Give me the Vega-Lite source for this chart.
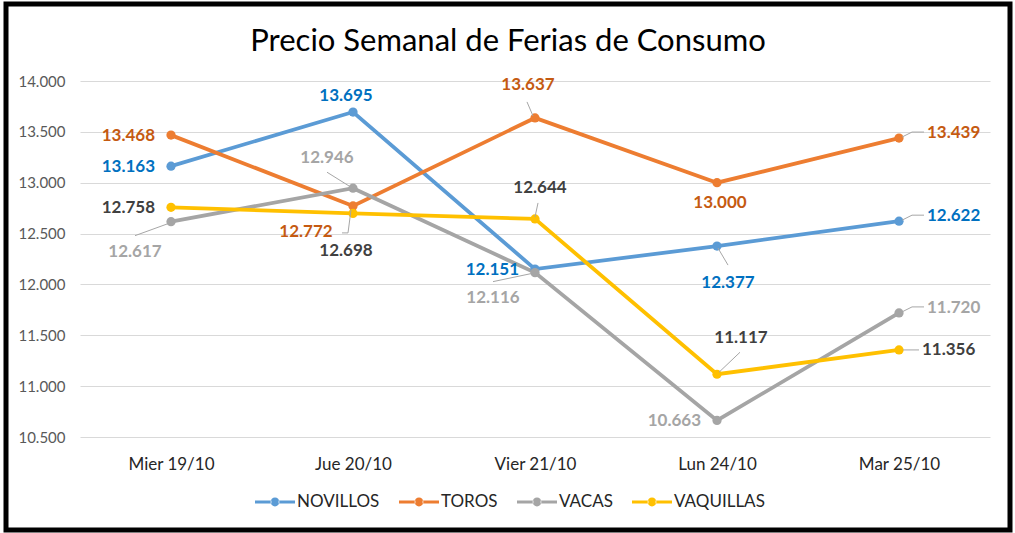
{
  "$schema": "https://vega.github.io/schema/vega-lite/v6.json",
  "width": 1004,
  "height": 526,
  "autosize": {"type": "none"},
  "padding": {"left": 6, "top": 4, "right": 5, "bottom": 3},
  "background": "white",
  "title": {
    "text": "Precio Semanal de Ferias de Consumo",
    "font": "Lato",
    "fontSize": 31,
    "fontWeight": "normal",
    "color": "#000000",
    "anchor": "middle",
    "baseline": "alphabetic",
    "offset": -78
  },
  "config": {
    "view": {"stroke": "#000000", "strokeWidth": 5},
    "locale": {"number": {"decimal": ",", "thousands": ".", "grouping": [3], "currency": ["$", ""]}}
  },
  "data": {
    "values": [
      {"serie": "NOVILLOS", "fecha": "Mier 19/10", "precio": 13163},
      {"serie": "NOVILLOS", "fecha": "Jue 20/10", "precio": 13695},
      {"serie": "NOVILLOS", "fecha": "Vier 21/10", "precio": 12151},
      {"serie": "NOVILLOS", "fecha": "Lun 24/10", "precio": 12377},
      {"serie": "NOVILLOS", "fecha": "Mar 25/10", "precio": 12622},
      {"serie": "TOROS", "fecha": "Mier 19/10", "precio": 13468},
      {"serie": "TOROS", "fecha": "Jue 20/10", "precio": 12772},
      {"serie": "TOROS", "fecha": "Vier 21/10", "precio": 13637},
      {"serie": "TOROS", "fecha": "Lun 24/10", "precio": 13000},
      {"serie": "TOROS", "fecha": "Mar 25/10", "precio": 13439},
      {"serie": "VACAS", "fecha": "Mier 19/10", "precio": 12617},
      {"serie": "VACAS", "fecha": "Jue 20/10", "precio": 12946},
      {"serie": "VACAS", "fecha": "Vier 21/10", "precio": 12116},
      {"serie": "VACAS", "fecha": "Lun 24/10", "precio": 10663},
      {"serie": "VACAS", "fecha": "Mar 25/10", "precio": 11720},
      {"serie": "VAQUILLAS", "fecha": "Mier 19/10", "precio": 12758},
      {"serie": "VAQUILLAS", "fecha": "Jue 20/10", "precio": 12698},
      {"serie": "VAQUILLAS", "fecha": "Vier 21/10", "precio": 12644},
      {"serie": "VAQUILLAS", "fecha": "Lun 24/10", "precio": 11117},
      {"serie": "VAQUILLAS", "fecha": "Mar 25/10", "precio": 11356}
    ]
  },
  "encoding": {
    "x": {
      "field": "fecha",
      "type": "nominal",
      "sort": ["Mier 19/10", "Jue 20/10", "Vier 21/10", "Lun 24/10", "Mar 25/10"],
      "scale": {"type": "point", "range": [74, 984], "padding": 0.5},
      "axis": {
        "title": null,
        "labelAngle": 0,
        "domain": false,
        "ticks": false,
        "tickSize": 0,
        "grid": false,
        "offset": -93,
        "labelPadding": 19,
        "labelFont": "Lato",
        "labelFontSize": 17,
        "labelColor": "#262626"
      }
    },
    "y": {
      "field": "precio",
      "type": "quantitative",
      "scale": {"domain": [10500, 14000], "range": [433, 77], "nice": false, "zero": false},
      "axis": {
        "title": null,
        "domain": false,
        "ticks": false,
        "tickSize": 0,
        "offset": -74,
        "labelPadding": 15,
        "values": [10500, 11000, 11500, 12000, 12500, 13000, 13500, 14000],
        "format": ",d",
        "grid": true,
        "gridColor": "#D9D9D9",
        "gridWidth": 1,
        "labelFont": "Lato",
        "labelFontSize": 15,
        "labelColor": "#595959"
      }
    }
  },
  "layer": [
    {
      "mark": {"type": "line", "strokeWidth": 3.8},
      "encoding": {
        "stroke": {
          "field": "serie",
          "type": "nominal",
          "scale": {"domain": ["VAQUILLAS", "VACAS", "TOROS", "NOVILLOS"], "range": ["#FFC000", "#A5A5A5", "#ED7D31", "#5B9BD5"]},
          "legend": null
        }
      }
    },
    {
      "mark": {"type": "point", "filled": true, "size": 85, "opacity": 1},
      "encoding": {
        "color": {
          "field": "serie",
          "type": "nominal",
          "scale": {"domain": ["NOVILLOS", "TOROS", "VACAS", "VAQUILLAS"], "range": ["#5B9BD5", "#ED7D31", "#A5A5A5", "#FFC000"]},
          "legend": {
            "title": null,
            "orient": "none",
            "legendX": 249,
            "legendY": 478,
            "direction": "horizontal",
            "symbolType": "M-1,-0.075H-0.18V0.075H-1Z M0.18,-0.075H1V0.075H0.18Z M-0.22,0A0.22,0.22 0 1 0 0.22,0A0.22,0.22 0 1 0 -0.22,0Z",
            "symbolSize": 1600,
            "symbolStrokeWidth": 0,
            "labelFont": "Lato",
            "labelFontSize": 17,
            "labelColor": "#262626",
            "columnPadding": 19,
            "labelOffset": 2
          }
        }
      }
    },
    {"transform": [{"filter": "datum.serie == 'VACAS' && datum.fecha == 'Mier 19/10'"}], "mark": {"type": "rule", "color": "#A6A6A6", "strokeWidth": 1, "xOffset": -3, "yOffset": 2, "x2Offset": -36, "y2Offset": 14}, "encoding": {"x2": {"field": "fecha"}, "y2": {"field": "precio"}}},
    {"transform": [{"filter": "datum.serie == 'VACAS' && datum.fecha == 'Jue 20/10'"}], "mark": {"type": "rule", "color": "#A6A6A6", "strokeWidth": 1, "xOffset": -2, "yOffset": -1, "x2Offset": -26, "y2Offset": -16}, "encoding": {"x2": {"field": "fecha"}, "y2": {"field": "precio"}}},
    {"transform": [{"filter": "datum.serie == 'TOROS' && datum.fecha == 'Jue 20/10'"}], "mark": {"type": "rule", "color": "#A6A6A6", "strokeWidth": 1, "xOffset": -2, "yOffset": 4, "x2Offset": -5, "y2Offset": 27}, "encoding": {"x2": {"field": "fecha"}, "y2": {"field": "precio"}}},
    {"transform": [{"filter": "datum.serie == 'TOROS' && datum.fecha == 'Jue 20/10'"}], "mark": {"type": "rule", "color": "#A6A6A6", "strokeWidth": 1, "xOffset": -11, "yOffset": 27, "x2Offset": -5, "y2Offset": 27}, "encoding": {"x2": {"field": "fecha"}, "y2": {"field": "precio"}}},
    {"transform": [{"filter": "datum.serie == 'TOROS' && datum.fecha == 'Vier 21/10'"}], "mark": {"type": "rule", "color": "#A6A6A6", "strokeWidth": 1, "xOffset": -2, "yOffset": -2, "x2Offset": -8, "y2Offset": -16}, "encoding": {"x2": {"field": "fecha"}, "y2": {"field": "precio"}}},
    {"transform": [{"filter": "datum.serie == 'VAQUILLAS' && datum.fecha == 'Vier 21/10'"}], "mark": {"type": "rule", "color": "#A6A6A6", "strokeWidth": 1, "xOffset": 0, "yOffset": -2, "x2Offset": 3, "y2Offset": -16}, "encoding": {"x2": {"field": "fecha"}, "y2": {"field": "precio"}}},
    {"transform": [{"filter": "datum.serie == 'VACAS' && datum.fecha == 'Vier 21/10'"}], "mark": {"type": "rule", "color": "#A6A6A6", "strokeWidth": 1, "xOffset": -4, "yOffset": 1, "x2Offset": -42, "y2Offset": 9}, "encoding": {"x2": {"field": "fecha"}, "y2": {"field": "precio"}}},
    {"transform": [{"filter": "datum.serie == 'NOVILLOS' && datum.fecha == 'Lun 24/10'"}], "mark": {"type": "rule", "color": "#A6A6A6", "strokeWidth": 1, "xOffset": 1, "yOffset": 2, "x2Offset": 11, "y2Offset": 19}, "encoding": {"x2": {"field": "fecha"}, "y2": {"field": "precio"}}},
    {"transform": [{"filter": "datum.serie == 'VAQUILLAS' && datum.fecha == 'Lun 24/10'"}], "mark": {"type": "rule", "color": "#A6A6A6", "strokeWidth": 1, "xOffset": 2, "yOffset": -2, "x2Offset": 23, "y2Offset": -22}, "encoding": {"x2": {"field": "fecha"}, "y2": {"field": "precio"}}},
    {"transform": [{"filter": "datum.fecha == 'Mar 25/10' && datum.serie != 'VAQUILLAS'"}], "mark": {"type": "rule", "color": "#A6A6A6", "strokeWidth": 1, "xOffset": 3, "yOffset": -1, "x2Offset": 13, "y2Offset": -6}, "encoding": {"x2": {"field": "fecha"}, "y2": {"field": "precio"}}},
    {"transform": [{"filter": "datum.fecha == 'Mar 25/10' && datum.serie != 'VAQUILLAS'"}], "mark": {"type": "rule", "color": "#A6A6A6", "strokeWidth": 1, "xOffset": 13, "yOffset": -6, "x2Offset": 25, "y2Offset": -6}, "encoding": {"x2": {"field": "fecha"}, "y2": {"field": "precio"}}},
    {"transform": [{"filter": "datum.fecha == 'Mar 25/10' && datum.serie == 'VAQUILLAS'"}], "mark": {"type": "rule", "color": "#A6A6A6", "strokeWidth": 1, "xOffset": 4, "yOffset": 0, "x2Offset": 20, "y2Offset": 0}, "encoding": {"x2": {"field": "fecha"}, "y2": {"field": "precio"}}},
    {
      "transform": [{"filter": "(datum.fecha == 'Mier 19/10' && datum.serie != 'VACAS') || (datum.serie == 'NOVILLOS' && datum.fecha == 'Vier 21/10') || (datum.serie == 'VACAS' && datum.fecha == 'Lun 24/10')"}],
      "mark": {"type": "text", "font": "Lato", "fontWeight": "bold", "fontSize": 17, "align": "right", "baseline": "middle", "dx": -16, "dy": 1},
      "encoding": {"text": {"field": "precio", "type": "quantitative", "format": ",d"}, "fill": {"field": "serie", "type": "nominal", "scale": {"domain": ["TOROS", "NOVILLOS", "VAQUILLAS", "VACAS"], "range": ["#C55A11", "#0070C0", "#404040", "#A5A5A5"]}, "legend": null}}
    },
    {
      "transform": [{"filter": "datum.fecha == 'Mar 25/10' && datum.serie != 'VAQUILLAS'"}],
      "mark": {"type": "text", "font": "Lato", "fontWeight": "bold", "fontSize": 17, "align": "left", "baseline": "middle", "dx": 28, "dy": -5},
      "encoding": {"text": {"field": "precio", "type": "quantitative", "format": ",d"}, "fill": {"field": "serie", "type": "nominal", "scale": {"domain": ["TOROS", "NOVILLOS", "VAQUILLAS", "VACAS"], "range": ["#C55A11", "#0070C0", "#404040", "#A5A5A5"]}, "legend": null}}
    },
    {
      "transform": [{"filter": "datum.fecha == 'Mar 25/10' && datum.serie == 'VAQUILLAS'"}],
      "mark": {"type": "text", "font": "Lato", "fontWeight": "bold", "fontSize": 17, "align": "left", "baseline": "middle", "dx": 23, "dy": 0},
      "encoding": {"text": {"field": "precio", "type": "quantitative", "format": ",d"}, "fill": {"field": "serie", "type": "nominal", "scale": {"domain": ["TOROS", "NOVILLOS", "VAQUILLAS", "VACAS"], "range": ["#C55A11", "#0070C0", "#404040", "#A5A5A5"]}, "legend": null}}
    },
    {
      "transform": [{"filter": "datum.serie == 'NOVILLOS' && datum.fecha == 'Jue 20/10'"}],
      "mark": {"type": "text", "font": "Lato", "fontWeight": "bold", "fontSize": 17, "align": "center", "baseline": "middle", "dx": -7, "dy": -16},
      "encoding": {"text": {"field": "precio", "type": "quantitative", "format": ",d"}, "fill": {"field": "serie", "type": "nominal", "scale": {"domain": ["TOROS", "NOVILLOS", "VAQUILLAS", "VACAS"], "range": ["#C55A11", "#0070C0", "#404040", "#A5A5A5"]}, "legend": null}}
    },
    {
      "transform": [{"filter": "datum.serie == 'TOROS' && datum.fecha == 'Vier 21/10'"}],
      "mark": {"type": "text", "font": "Lato", "fontWeight": "bold", "fontSize": 17, "align": "center", "baseline": "middle", "dx": -7, "dy": -33},
      "encoding": {"text": {"field": "precio", "type": "quantitative", "format": ",d"}, "fill": {"field": "serie", "type": "nominal", "scale": {"domain": ["TOROS", "NOVILLOS", "VAQUILLAS", "VACAS"], "range": ["#C55A11", "#0070C0", "#404040", "#A5A5A5"]}, "legend": null}}
    },
    {
      "transform": [{"filter": "datum.serie == 'VAQUILLAS' && datum.fecha == 'Vier 21/10'"}],
      "mark": {"type": "text", "font": "Lato", "fontWeight": "bold", "fontSize": 17, "align": "center", "baseline": "middle", "dx": 5, "dy": -31},
      "encoding": {"text": {"field": "precio", "type": "quantitative", "format": ",d"}, "fill": {"field": "serie", "type": "nominal", "scale": {"domain": ["TOROS", "NOVILLOS", "VAQUILLAS", "VACAS"], "range": ["#C55A11", "#0070C0", "#404040", "#A5A5A5"]}, "legend": null}}
    },
    {
      "transform": [{"filter": "datum.serie == 'VACAS' && datum.fecha == 'Jue 20/10'"}],
      "mark": {"type": "text", "font": "Lato", "fontWeight": "bold", "fontSize": 17, "align": "center", "baseline": "middle", "dx": -26, "dy": -30},
      "encoding": {"text": {"field": "precio", "type": "quantitative", "format": ",d"}, "fill": {"field": "serie", "type": "nominal", "scale": {"domain": ["TOROS", "NOVILLOS", "VAQUILLAS", "VACAS"], "range": ["#C55A11", "#0070C0", "#404040", "#A5A5A5"]}, "legend": null}}
    },
    {
      "transform": [{"filter": "datum.serie == 'VAQUILLAS' && datum.fecha == 'Lun 24/10'"}],
      "mark": {"type": "text", "font": "Lato", "fontWeight": "bold", "fontSize": 17, "align": "center", "baseline": "middle", "dx": 24, "dy": -36},
      "encoding": {"text": {"field": "precio", "type": "quantitative", "format": ",d"}, "fill": {"field": "serie", "type": "nominal", "scale": {"domain": ["TOROS", "NOVILLOS", "VAQUILLAS", "VACAS"], "range": ["#C55A11", "#0070C0", "#404040", "#A5A5A5"]}, "legend": null}}
    },
    {
      "transform": [{"filter": "datum.serie == 'NOVILLOS' && datum.fecha == 'Lun 24/10'"}],
      "mark": {"type": "text", "font": "Lato", "fontWeight": "bold", "fontSize": 17, "align": "center", "baseline": "middle", "dx": 11, "dy": 37},
      "encoding": {"text": {"field": "precio", "type": "quantitative", "format": ",d"}, "fill": {"field": "serie", "type": "nominal", "scale": {"domain": ["TOROS", "NOVILLOS", "VAQUILLAS", "VACAS"], "range": ["#C55A11", "#0070C0", "#404040", "#A5A5A5"]}, "legend": null}}
    },
    {
      "transform": [{"filter": "datum.serie == 'TOROS' && datum.fecha == 'Lun 24/10'"}],
      "mark": {"type": "text", "font": "Lato", "fontWeight": "bold", "fontSize": 17, "align": "center", "baseline": "middle", "dx": 3, "dy": 20},
      "encoding": {"text": {"field": "precio", "type": "quantitative", "format": ",d"}, "fill": {"field": "serie", "type": "nominal", "scale": {"domain": ["TOROS", "NOVILLOS", "VAQUILLAS", "VACAS"], "range": ["#C55A11", "#0070C0", "#404040", "#A5A5A5"]}, "legend": null}}
    },
    {
      "transform": [{"filter": "datum.serie == 'VACAS' && datum.fecha == 'Mier 19/10'"}],
      "mark": {"type": "text", "font": "Lato", "fontWeight": "bold", "fontSize": 17, "align": "center", "baseline": "middle", "dx": -36, "dy": 30},
      "encoding": {"text": {"field": "precio", "type": "quantitative", "format": ",d"}, "fill": {"field": "serie", "type": "nominal", "scale": {"domain": ["TOROS", "NOVILLOS", "VAQUILLAS", "VACAS"], "range": ["#C55A11", "#0070C0", "#404040", "#A5A5A5"]}, "legend": null}}
    },
    {
      "transform": [{"filter": "datum.serie == 'VACAS' && datum.fecha == 'Vier 21/10'"}],
      "mark": {"type": "text", "font": "Lato", "fontWeight": "bold", "fontSize": 17, "align": "center", "baseline": "middle", "dx": -42, "dy": 25},
      "encoding": {"text": {"field": "precio", "type": "quantitative", "format": ",d"}, "fill": {"field": "serie", "type": "nominal", "scale": {"domain": ["TOROS", "NOVILLOS", "VAQUILLAS", "VACAS"], "range": ["#C55A11", "#0070C0", "#404040", "#A5A5A5"]}, "legend": null}}
    },
    {
      "transform": [{"filter": "datum.serie == 'TOROS' && datum.fecha == 'Jue 20/10'"}],
      "mark": {"type": "text", "font": "Lato", "fontWeight": "bold", "fontSize": 17, "align": "center", "baseline": "middle", "dx": -47, "dy": 26},
      "encoding": {"text": {"field": "precio", "type": "quantitative", "format": ",d"}, "fill": {"field": "serie", "type": "nominal", "scale": {"domain": ["TOROS", "NOVILLOS", "VAQUILLAS", "VACAS"], "range": ["#C55A11", "#0070C0", "#404040", "#A5A5A5"]}, "legend": null}}
    },
    {
      "transform": [{"filter": "datum.serie == 'VAQUILLAS' && datum.fecha == 'Jue 20/10'"}],
      "mark": {"type": "text", "font": "Lato", "fontWeight": "bold", "fontSize": 17, "align": "center", "baseline": "middle", "dx": -7, "dy": 38},
      "encoding": {"text": {"field": "precio", "type": "quantitative", "format": ",d"}, "fill": {"field": "serie", "type": "nominal", "scale": {"domain": ["TOROS", "NOVILLOS", "VAQUILLAS", "VACAS"], "range": ["#C55A11", "#0070C0", "#404040", "#A5A5A5"]}, "legend": null}}
    }
  ]
}
